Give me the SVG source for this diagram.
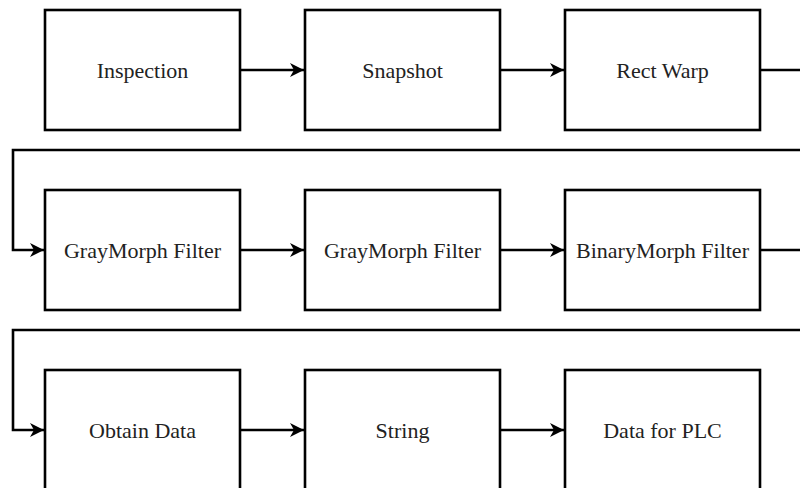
<svg xmlns="http://www.w3.org/2000/svg" width="800" height="488" viewBox="0 0 800 488">
<style>
.box{fill:#fff;stroke:#000;stroke-width:2.6}
.edge{fill:none;stroke:#000;stroke-width:2.6}
</style>
<defs>
<marker id="arr" markerUnits="userSpaceOnUse" viewBox="0 0 14 16" refX="14" refY="8" markerWidth="14" markerHeight="16" orient="auto">
<path d="M0,1 L14,8 L0,15 L4,8 Z" fill="#000"/>
</marker>
</defs>
<rect width="800" height="488" fill="#fff"/>
<g id="edges">
<path class="edge" d="M240,70 H304" marker-end="url(#arr)"/>
<path class="edge" d="M500,70 H564" marker-end="url(#arr)"/>
<path class="edge" d="M760,70 H810 V150 H13 V250 H44" marker-end="url(#arr)"/>
<path class="edge" d="M240,250 H304" marker-end="url(#arr)"/>
<path class="edge" d="M500,250 H564" marker-end="url(#arr)"/>
<path class="edge" d="M760,250 H810 V330 H13 V430 H44" marker-end="url(#arr)"/>
<path class="edge" d="M240,430 H304" marker-end="url(#arr)"/>
<path class="edge" d="M500,430 H564" marker-end="url(#arr)"/>
</g>
<g font-family="Liberation Serif, serif" font-size="22" fill="#222" text-anchor="middle">
<g id="inspection"><rect class="box" x="45" y="10" width="195" height="120"/><text x="142.5" y="77.5">Inspection</text></g>
<g id="snapshot"><rect class="box" x="305" y="10" width="195" height="120"/><text x="402.5" y="77.5">Snapshot</text></g>
<g id="rectwarp"><rect class="box" x="565" y="10" width="195" height="120"/><text x="662.5" y="77.5">Rect Warp</text></g>
<g id="graymorph1"><rect class="box" x="45" y="190" width="195" height="120"/><text x="142.5" y="257.5">GrayMorph Filter</text></g>
<g id="graymorph2"><rect class="box" x="305" y="190" width="195" height="120"/><text x="402.5" y="257.5">GrayMorph Filter</text></g>
<g id="binarymorph"><rect class="box" x="565" y="190" width="195" height="120"/><text x="662.5" y="257.5">BinaryMorph Filter</text></g>
<g id="obtaindata"><rect class="box" x="45" y="370" width="195" height="120"/><text x="142.5" y="437.5">Obtain Data</text></g>
<g id="string"><rect class="box" x="305" y="370" width="195" height="120"/><text x="402.5" y="437.5">String</text></g>
<g id="dataplc"><rect class="box" x="565" y="370" width="195" height="120"/><text x="662.5" y="437.5">Data for PLC</text></g>
</g>
</svg>
